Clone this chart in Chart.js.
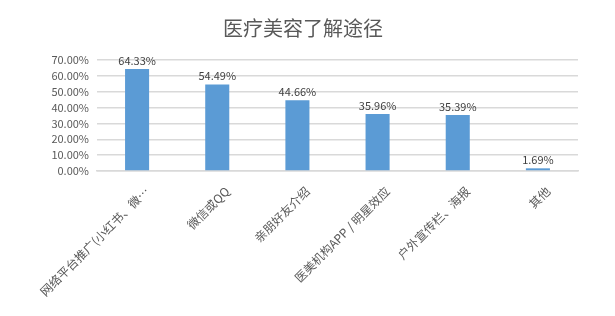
<!DOCTYPE html>
<html>
<head>
<meta charset="utf-8">
<script src="https://cdn.jsdelivr.net/npm/chart.js@4.4.0/dist/chart.umd.min.js"></script>
<style>
  html, body { margin: 0; padding: 0; background: #fff; }
  #wrap { width: 615px; height: 316px; }
</style>
</head>
<body>
<div id="wrap"><canvas id="chart" width="615" height="316"></canvas></div>
<script>
const categories = ["网络平台推广(小红书、微…", "微信或QQ", "亲朋好友介绍", "医美机构APP / 明星效应", "户外宣传栏、海报", "其他"];
const shares = [64.33, 54.49, 44.66, 35.96, 35.39, 1.69];
const chartTitle = "医疗美容了解途径";

const textColor = "#595959";
const fontFamily = "'Noto Sans CJK SC', 'Noto Sans', sans-serif";

const valueLabels = {
    id: "valueLabels",
    afterDatasetsDraw(chart) {
        const ctx = chart.ctx;
        const meta = chart.getDatasetMeta(0);
        ctx.save();
        ctx.fillStyle = "#404040";
        ctx.font = "11px " + fontFamily;
        ctx.textAlign = "center";
        ctx.textBaseline = "bottom";
        meta.data.forEach((bar, i) => {
            ctx.fillText(shares[i].toFixed(2) + "%", bar.x, bar.y - 3);
        });
        ctx.restore();
    }
};

function chartInit() {
    const ctx = document.getElementById("chart").getContext("2d");
    new Chart(ctx, {
        type: "bar",
        data: {
            labels: categories,
            datasets: [{
                data: shares,
                backgroundColor: "#5b9bd5",
                barPercentage: 0.6,
                categoryPercentage: 0.5
            }]
        },
        options: {
            responsive: false,
            animation: false,
            layout: { padding: { left: 28, right: 37, top: 0, bottom: 0 } },
            plugins: {
                legend: { display: false },
                tooltip: { enabled: false },
                title: {
                    display: true,
                    text: chartTitle,
                    color: textColor,
                    font: { family: fontFamily, size: 20, weight: "normal" },
                    padding: { top: 16, bottom: 20 }
                }
            },
            scales: {
                x: {
                    grid: { display: false, drawTicks: false },
                    border: { color: "#d9d9d9", width: 1.5 },
                    ticks: {
                        color: textColor,
                        font: { family: fontFamily, size: 12 },
                        minRotation: 45,
                        maxRotation: 45,
                        padding: 13,
                        labelOffset: 10,
                        autoSkip: false
                    },
                    afterFit(scale) { scale.height = 145; }
                },
                y: {
                    min: 0,
                    max: 70,
                    grid: { color: "#d9d9d9", lineWidth: 1.5, drawTicks: false },
                    border: { display: false },
                    ticks: {
                        stepSize: 10,
                        autoSkip: false,
                        color: textColor,
                        font: { family: fontFamily, size: 11 },
                        padding: 8,
                        callback: v => v.toFixed(2) + "%"
                    },
                    afterFit(scale) { scale.width = 69; }
                }
            }
        },
        plugins: [valueLabels]
    });
}

chartInit();
</script>
</body>
</html>
